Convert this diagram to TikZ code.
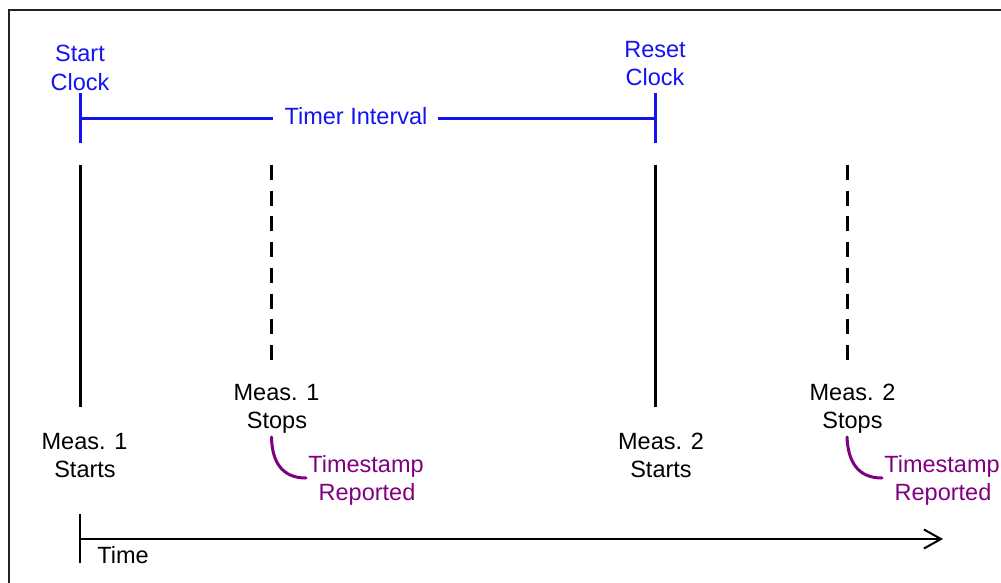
\documentclass[tikz,border=0pt]{standalone}
\usepackage{fontspec}
\setmainfont{Liberation Sans}
\usetikzlibrary{arrows.meta}
\definecolor{clkblue}{RGB}{20,20,240}
\definecolor{tspurple}{RGB}{128,0,128}
\definecolor{framegray}{RGB}{34,34,34}
\begin{document}
\begin{tikzpicture}[x=1pt,y=-1pt,
  lbl/.style={anchor=base,inner sep=0pt,font=\fontsize{23.5}{28}\selectfont},
  bluelbl/.style={lbl,text=clkblue},
  purplelbl/.style={lbl,text=tspurple},
  blueline/.style={draw=clkblue,line width=3pt},
  solidmark/.style={draw=black,line width=3pt},
  dashmark/.style={draw=black,line width=3pt,dash pattern=on 15pt off 10.7pt},
  tscurve/.style={draw=tspurple,line width=3pt,line cap=round},
  axisline/.style={draw=black,line width=2pt}]
\clip (0,0) rectangle (1001,582);
\fill[white] (0,0) rectangle (1001,582);
% frame
\draw[framegray,line width=2pt] (9,620) -- (9,10) -- (1040,10);

% clock labels
\node[bluelbl] (sc1) at (80,61) {Start};
\node[bluelbl] (sc2) at (80,90) {Clock};
\node[bluelbl] (rc1) at (655,57) {Reset};
\node[bluelbl] (rc2) at (655,85) {Clock};
\node[bluelbl] (ti) at (356,124) {Timer Interval};

% timer interval bracket
\coordinate (tA) at (80,93);
\coordinate (tB) at (80,143);
\coordinate (tC) at (80,118);
\coordinate (tD) at (273,118);
\coordinate (tE) at (438,118);
\coordinate (tF) at (655,118);
\coordinate (tG) at (655,93);
\coordinate (tH) at (655,143);
\draw[blueline] (tA) -- (tB);
\draw[blueline] (tC) -- (tD);
\draw[blueline] (tE) -- (tF);
\draw[blueline] (tG) -- (tH);

% measurement marks
\coordinate (m1a) at (80,165);
\coordinate (m1b) at (80,407);
\coordinate (m2a) at (655,165);
\coordinate (m2b) at (655,407);
\coordinate (s1a) at (271.5,165);
\coordinate (s1b) at (271.5,360);
\coordinate (s2a) at (847,165);
\coordinate (s2b) at (847,360);
\draw[solidmark] (m1a) -- (m1b);
\draw[solidmark] (m2a) -- (m2b);
\draw[dashmark] (s1a) -- (s1b);
\draw[dashmark] (s2a) -- (s2b);

% measurement labels
\node[lbl] (ms1a) at (84.5,449) {Meas. 1};
\node[lbl] (ms1b) at (85,477) {Starts};
\node[lbl] (mt1a) at (276.5,400) {Meas. 1};
\node[lbl] (mt1b) at (277,428) {Stops};
\node[lbl] (ms2a) at (661,449) {Meas. 2};
\node[lbl] (ms2b) at (661,477) {Starts};
\node[lbl] (mt2a) at (852.5,400) {Meas. 2};
\node[lbl] (mt2b) at (852.5,428) {Stops};

% timestamp labels
\node[purplelbl] (ts1a) at (366,472) {Timestamp};
\node[purplelbl] (ts1b) at (367,500) {Reported};
\node[purplelbl] (ts2a) at (942,472) {Timestamp};
\node[purplelbl] (ts2b) at (943,500) {Reported};

\coordinate (c1a) at (271.5,437);
\coordinate (c1b) at (306,478);
\coordinate (c2a) at (847,437);
\coordinate (c2b) at (882,478);
\draw[tscurve] (c1a) .. controls (272,462) and (282,478) .. (c1b);
\draw[tscurve] (c2a) .. controls (848,462) and (858,478) .. (c2b);

% time axis
\coordinate (xa) at (80,514);
\coordinate (xb) at (80,563);
\coordinate (xc) at (80,539);
\coordinate (xd) at (943,539);
\draw[axisline] (xa) -- (xb);
\draw[axisline,-{Straight Barb[length=17pt,width=19pt]}] (xc) -- (xd);
\node[lbl] (tm) at (123,563) {Time};
\end{tikzpicture}
\end{document}
